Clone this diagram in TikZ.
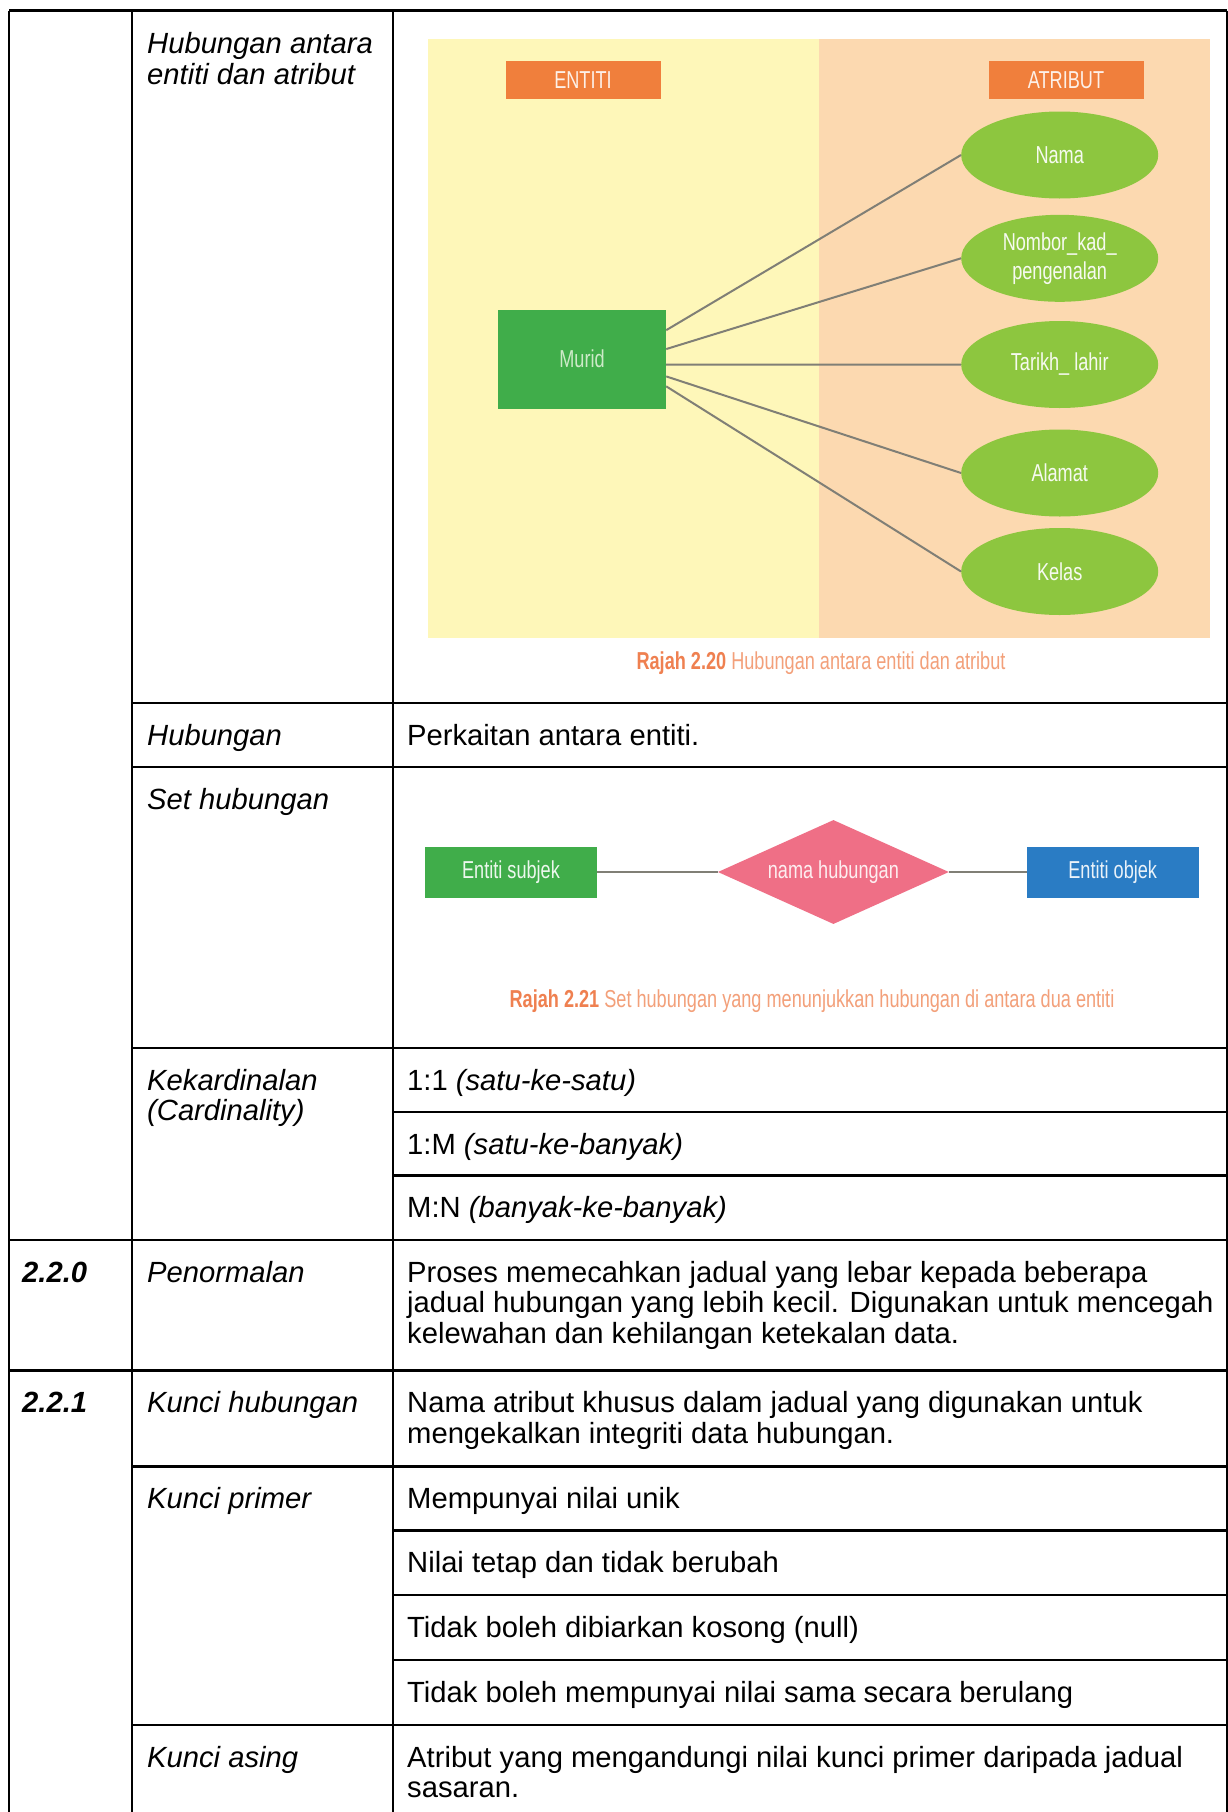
\documentclass[tikz,border=0pt]{standalone}
\usepackage{fontspec}
\setmainfont{Liberation Sans}
\newfontfamily\condfont[FakeStretch=0.74]{Liberation Sans}
\usetikzlibrary{shapes.geometric,calc}

\definecolor{erYellow}{HTML}{FEF7B9}
\definecolor{erPeach}{HTML}{FCD9B0}
\definecolor{erOrange}{HTML}{F07F3C}
\definecolor{erGreen}{HTML}{40AD4A}
\definecolor{erLime}{HTML}{8DC63F}
\definecolor{erPink}{HTML}{EF6F86}
\definecolor{erBlue}{HTML}{2A7CC4}
\definecolor{erLine}{HTML}{807F76}
\definecolor{capBold}{HTML}{EF8050}
\definecolor{capText}{HTML}{F3A07A}
\definecolor{paleGreen}{HTML}{CDEAC8}

% fixed-height strut so every cell's first baseline sits 24pt below its top
\newcommand{\tstrut}{\rule{0pt}{24pt}}

\begin{document}
\begin{tikzpicture}[x=1pt,y=-1pt,
  rule/.style={line width=2.6pt, black},
  cell/.style={anchor=north west, inner sep=0pt, align=left,
    font=\fontsize{29.2}{30.6}\selectfont},
  head/.style={cell, font=\fontsize{29.2}{30.6}\selectfont\itshape},
  code/.style={cell, font=\fontsize{29.2}{30.6}\selectfont\bfseries\itshape},
  erfont/.style={font=\condfont\fontsize{24.5}{29}\selectfont},
  erbox/.style={rectangle, inner sep=0pt, erfont},
  attr/.style={ellipse, inner sep=0pt, minimum width=197, minimum height=87,
    fill=erLime, text=white!92!erLime, erfont, align=center},
  link/.style={erLine, line width=2pt},
  caption/.style={inner sep=0pt, erfont}
]
\useasboundingbox (0,0) rectangle (1228,1812);
\fill[white] (0,0) rectangle (1228,1812);

% ---------- table grid ----------
\draw[rule] (9,10.5) -- (1227,10.5);
\draw[rule] (9,10.5) -- (9,1812);
\draw[rule] (132,10.5) -- (132,1812);
\draw[rule] (393,10.5) -- (393,1812);
\draw[rule] (1227,10.5) -- (1227,1812);
\foreach \yy in {703,767,1048,1466.5,1725}
  \draw[rule] (132,\yy) -- (1227,\yy);
\foreach \yy in {1112,1175.5,1530.5,1595,1660}
  \draw[rule] (393,\yy) -- (1227,\yy);
\foreach \yy in {1240,1370.5}
  \draw[rule] (9,\yy) -- (1227,\yy);

% ---------- table text ----------
\node[head] (tEntAtr) at (147,29.5) {\tstrut Hubungan antara\\entiti dan atribut};
\node[head] (tHub) at (147,721) {\tstrut Hubungan};
\node[cell] (dHub) at (407,721) {\tstrut Perkaitan antara entiti.};
\node[head] (tSet) at (147,785) {\tstrut Set hubungan};
\node[head] (tKard) at (147,1066) {\tstrut Kekardinalan\\(Cardinality)};
\node[cell] (dOne) at (407,1066) {\tstrut 1:1 \textit{(satu-ke-satu)}};
\node[cell] (dOneM) at (407,1130) {\tstrut 1:M \textit{(satu-ke-banyak)}};
\node[cell] (dMN) at (407,1193.5) {\tstrut M:N \textit{(banyak-ke-banyak)}};

\node[code] (c220) at (22,1258) {\tstrut 2.2.0};
\node[head] (tNorm) at (147,1258) {\tstrut Penormalan};
\node[cell] (dNorm) at (407,1258) {\tstrut Proses memecahkan jadual yang lebar kepada beberapa\\jadual hubungan yang lebih kecil. Digunakan untuk mencegah\\kelewahan dan kehilangan ketekalan data.};

\node[code] (c221) at (22,1388.5) {\tstrut 2.2.1};
\node[head] (tKH) at (147,1388.5) {\tstrut Kunci hubungan};
\node[cell] (dKH) at (407,1388.5) {\tstrut Nama atribut khusus dalam jadual yang digunakan untuk\\mengekalkan integriti data hubungan.};

\node[head] (tKP) at (147,1484.5) {\tstrut Kunci primer};
\node[cell] (dKP1) at (407,1484.5) {\tstrut Mempunyai nilai unik};
\node[cell] (dKP2) at (407,1548.5) {\tstrut Nilai tetap dan tidak berubah};
\node[cell] (dKP3) at (407,1613) {\tstrut Tidak boleh dibiarkan kosong (null)};
\node[cell] (dKP4) at (407,1678) {\tstrut Tidak boleh mempunyai nilai sama secara berulang};

\node[head] (tKA) at (147,1743) {\tstrut Kunci asing};
\node[cell] (dKA) at (407,1743) {\tstrut Atribut yang mengandungi nilai kunci primer daripada jadual\\sasaran.};

% ---------- entity / attribute figure ----------
\fill[erYellow] (427.5,39) rectangle (819,637.5);
\fill[erPeach] (819,39) rectangle (1210,637.5);
\node[erbox, fill=erOrange, text=white!88!erOrange, minimum width=155, minimum height=38] (entHead) at (583,80) {ENTITI};
\node[erbox, fill=erOrange, text=white!88!erOrange, minimum width=155, minimum height=38] (atrHead) at (1066,80) {ATRIBUT};
\node[erbox, fill=erGreen, text=paleGreen, minimum width=168, minimum height=99] (murid) at (582,359) {Murid};

\node[attr] (nama) at (1059.7,155) {Nama};
\node[attr] (nombor) at (1059.7,258.3) {Nombor\_kad\_\\pengenalan};
\node[attr] (tarikh) at (1059.7,364.5) {Tarikh\_ lahir};
\node[attr] (alamat) at (1059.7,473) {Alamat};
\node[attr] (kelas) at (1059.7,571.5) {Kelas};

\draw[link] ($(murid.north east)!0.21!(murid.south east)$) -- (nama.west);
\draw[link] ($(murid.north east)!0.40!(murid.south east)$) -- (nombor.west);
\draw[link] ($(murid.north east)!0.556!(murid.south east)$) -- (tarikh.west);
\draw[link] ($(murid.north east)!0.675!(murid.south east)$) -- (alamat.west);
\draw[link] ($(murid.north east)!0.775!(murid.south east)$) -- (kelas.west);

\node[caption] (cap20) at (821,663) {\textcolor{capBold}{\bfseries Rajah 2.20} \textcolor{capText}{Hubungan antara entiti dan atribut}};

% ---------- relationship set figure ----------
\node[erbox, fill=erGreen, text=white!90!erGreen, minimum width=172, minimum height=51] (subjek) at (511,872) {Entiti subjek};
\node[diamond, aspect=2.2, inner sep=0pt, minimum width=231, minimum height=104, fill=erPink, text=white!88!erPink, erfont] (rel) at (833.4,872) {nama hubungan};
\node[erbox, fill=erBlue, text=white!90!erBlue, minimum width=172, minimum height=51] (objek) at (1112.7,872) {Entiti objek};
\draw[link] (subjek) -- (rel);
\draw[link] (rel) -- (objek);

\node[caption] (cap21) at (812,1000.7) {\textcolor{capBold}{\bfseries Rajah 2.21} \textcolor{capText}{Set hubungan yang menunjukkan hubungan di antara dua entiti}};
\end{tikzpicture}
\end{document}
